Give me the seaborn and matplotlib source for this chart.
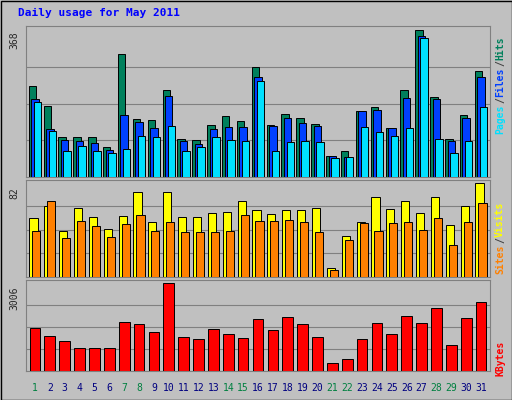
import matplotlib
matplotlib.use("Agg")
import matplotlib.pyplot as plt
import seaborn as sns
import pandas as pd
import numpy as np

days = list(range(1, 32))
weekends = [1, 7, 8, 14, 15, 21, 22, 28, 29]
hits = [229,179,101,101,101,76,308,146,144,219,96,93,131,154,141,275,131,159,149,134,53,66,166,176,124,219,368,202,96,156,267]
files = [195,120,93,91,86,68,156,139,124,204,91,83,121,126,126,250,129,149,136,129,52,50,166,169,124,199,355,197,91,149,250]
pages = [189,116,66,78,66,60,71,103,101,129,66,76,101,93,91,242,66,88,91,88,48,50,126,113,103,124,350,96,60,91,176]
visits = [51,62,40,60,52,42,53,74,48,74,52,52,56,57,66,58,55,58,58,60,8,36,48,70,59,66,56,70,45,62,82]
sites = [40,66,34,49,44,35,46,54,40,48,39,39,39,40,54,49,49,50,48,39,6,32,47,40,47,48,41,51,28,48,64]
kbytes = [1468,1188,1014,769,769,769,1678,1608,1328,3006,1153,1083,1433,1258,1118,1782,1398,1852,1608,1153,280,419,1083,1643,1258,1887,1643,2132,874,1817,2342]

sns.set_style("white")
W, H = 512, 400
fig = plt.figure(figsize=(W/100, H/100), dpi=100)
fig.patch.set_facecolor("#c0c0c0")
mono = "DejaVu Sans Mono"

def ax_px(x0, y0, x1, y1):
    return fig.add_axes([x0/W, 1-y1/H, (x1-x0)/W, (y1-y0)/H])

def panel(ax, series, ymax, width, step):
    ax.set_facecolor("#c0c0c0")
    for s in ax.spines.values():
        s.set_color("#808080")
    for g in np.linspace(0, ymax, 5)[1:-1]:
        ax.axhline(g, color="#808080", lw=0.8, zorder=0)
    n = len(series)
    for i, (vals, col) in enumerate(series):
        off = (i - (n-1)/2) * step
        df = pd.DataFrame({"x": [d + off for d in days], "y": vals})
        sns.barplot(data=df, x="x", y="y", native_scale=True, width=width,
                    color=col, edgecolor="black", linewidth=0.7,
                    saturation=1, ax=ax, zorder=2+i)
    ax.set_xlim(0.4, 31.6)
    ax.set_ylim(0, ymax*1.03)
    ax.set_xticks([]); ax.set_yticks([])
    ax.set_xlabel(""); ax.set_ylabel("")

a1 = ax_px(26, 26, 490, 177)
panel(a1, [(hits, "#00805c"), (files, "#0040ff"), (pages, "#00e0ff")], 368, 0.5, 0.17)
a2 = ax_px(26, 180, 490, 277)
panel(a2, [(visits, "#ffff00"), (sites, "#ff8000")], 82, 0.55, 0.2)
a3 = ax_px(26, 280, 490, 371)
panel(a3, [(kbytes, "#ff0000")], 3006, 0.72, 0)

fig.text(18/W, 1-13/H, "Daily usage for May 2011", color="#0000ff",
         fontfamily=mono, fontweight="bold", fontsize=8, va="center")
for y, t in [(40, "368"), (193, "82"), (298, "3006")]:
    fig.text(14/W, 1-y/H, t, rotation=90, fontfamily=mono, fontsize=7, va="center", ha="center")

def rlabel(y, parts):
    cur = y
    for txt, col in parts:
        fig.text(500/W, 1-cur/H, txt, rotation=90, color=col, fontfamily=mono,
                 fontsize=7, fontweight="bold", va="bottom", ha="center")
        cur -= 6.2*len(txt)

rlabel(134, [("Pages", "#00e0ff"), ("/", "#404040"), ("Files", "#0040ff"), ("/", "#404040"), ("Hits", "#00805c")])
rlabel(274, [("Sites", "#ff8000"), ("/", "#404040"), ("Visits", "#ffff00")])
rlabel(376, [("KBytes", "#ff0000")])

x0, x1 = 26, 490
for d in days:
    xp = x0 + (d - 0.4) / 31.2 * (x1 - x0)
    fig.text(xp/W, 1-388/H, str(d), color="#008040" if d in weekends else "#000080",
             fontfamily=mono, fontsize=7, ha="center", va="center")

fig.add_artist(plt.Rectangle((0.5/W, 0.5/H), 1-1/W, 1-1/H, transform=fig.transFigure,
                             fill=False, edgecolor="black", lw=1))
fig.savefig("out.png", dpi=100, facecolor=fig.get_facecolor())
